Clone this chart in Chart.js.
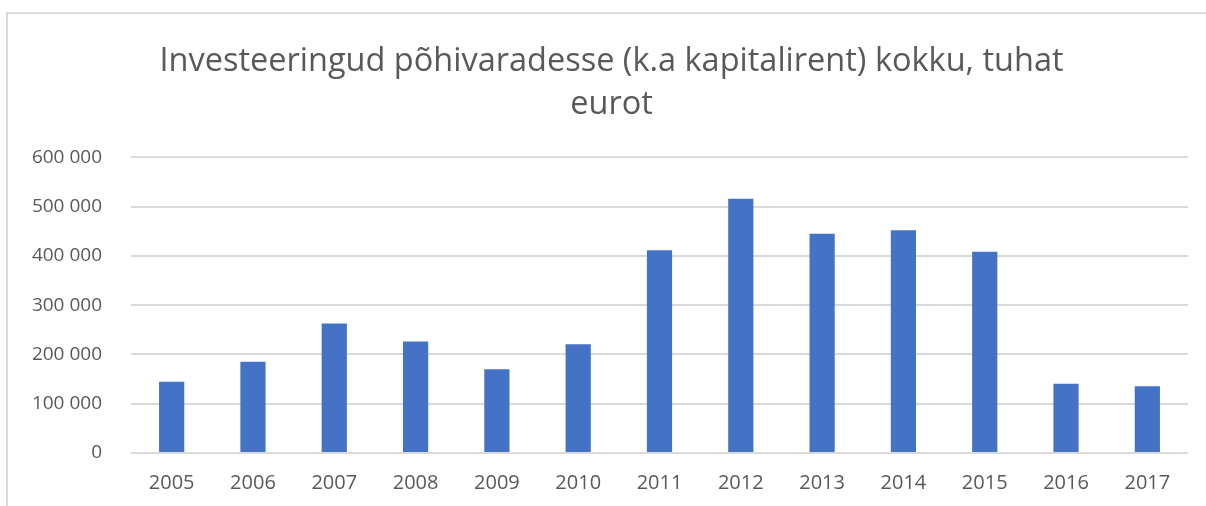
<!DOCTYPE html>
<html>
<head>
<meta charset="utf-8">
<script src="https://cdn.jsdelivr.net/npm/chart.js@4/dist/chart.umd.min.js"></script>
<style>
  html, body { margin: 0; padding: 0; background: #ffffff; }
  canvas { display: block; }
</style>
</head>
<body>
<canvas id="c" width="1206" height="506"></canvas>
<script>
// Investments in fixed assets (incl. finance leases), thousand euros
const years = ['2005', '2006', '2007', '2008', '2009', '2010', '2011', '2012', '2013', '2014', '2015', '2016', '2017'];
const investments = [144700, 185500, 262900, 226200, 170000, 220900, 411700, 516400, 445100, 452400, 408400, 140600, 135300];
const titleLines = ['Investeeringud põhivaradesse (k.a kapitalirent) kokku, tuhat', 'eurot'];
const yMin = 0;
const yMax = 600000;
const yStep = 100000;

const textColor = '#595959';
const gridColor = '#d9d9d9';
const barColor = '#4472c4';

// Thin frame around the chart object (left and top edges only)
const framePlugin = {
  id: 'frame',
  beforeDraw(chart) {
    const ctx = chart.ctx;
    ctx.save();
    ctx.strokeStyle = '#dadada';
    ctx.lineWidth = 2;
    ctx.beginPath();
    ctx.moveTo(7, chart.height);
    ctx.lineTo(7, 13);
    ctx.lineTo(chart.width, 13);
    ctx.stroke();
    ctx.restore();
  }
};

// Center the title over the whole chart object rather than the padded layout box
const titleShift = {
  id: 'titleShift',
  afterLayout(chart) {
    const t = chart.titleBlock;
    if (t) { t.left += 14; t.right += 14; }
  }
};

const fmt = v => String(v).replace(/\B(?=(\d{3})+(?!\d))/g, ' ');

new Chart(document.getElementById('c'), {
  type: 'bar',
  data: {
    labels: years,
    datasets: [{
      data: investments,
      backgroundColor: barColor,
      borderWidth: 0,
      barPercentage: 0.31,
      categoryPercentage: 1
    }]
  },
  options: {
    responsive: false,
    devicePixelRatio: 1,
    animation: false,
    layout: { padding: { left: 7, right: 18, top: 0, bottom: -7 } },
    plugins: {
      legend: { display: false },
      tooltip: { enabled: false },
      title: {
        display: true,
        text: titleLines,
        color: textColor,
        font: { family: 'Open Sans', size: 32.5, weight: '400', lineHeight: 1.33 },
        padding: { top: 40, bottom: 31 }
      }
    },
    scales: {
      x: {
        grid: { display: false, drawTicks: false },
        border: { display: false },
        ticks: {
          color: textColor,
          font: { family: 'Open Sans', size: 20 },
          padding: 18,
          maxRotation: 0
        }
      },
      y: {
        min: yMin,
        max: yMax,
        afterFit(scale) { scale.width = 124; },
        grid: { color: gridColor, lineWidth: 2, drawTicks: false },
        border: { display: false },
        ticks: {
          stepSize: yStep,
          color: textColor,
          font: { family: 'Open Sans', size: 19 },
          padding: 29,
          callback: v => fmt(v)
        }
      }
    }
  },
  plugins: [framePlugin, titleShift]
});
</script>
</body>
</html>
